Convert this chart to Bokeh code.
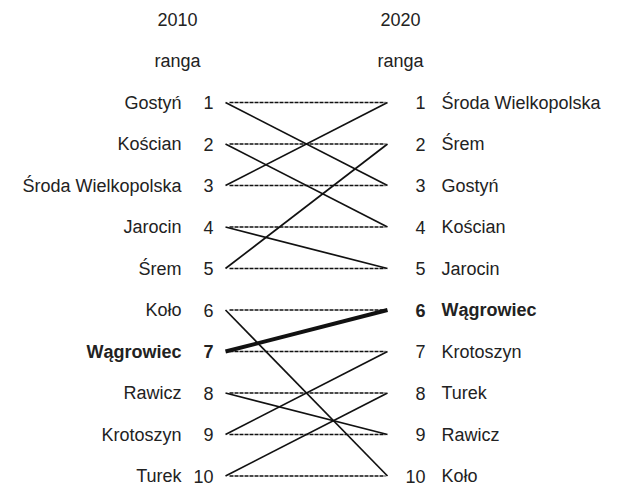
from bokeh.plotting import figure
from bokeh.models import Range1d, ColumnDataSource
from bokeh.core.properties import value
from bokeh.embed import file_html
from bokeh.resources import INLINE

# ---- data ----
years = ["2010", "2020"]
rank_header = "ranga"
ranks = [1, 2, 3, 4, 5, 6, 7, 8, 9, 10]
names_2010 = ["Gostyń", "Kościan", "Środa Wielkopolska", "Jarocin", "Śrem",
              "Koło", "Wągrowiec", "Rawicz", "Krotoszyn", "Turek"]
names_2020 = ["Środa Wielkopolska", "Śrem", "Gostyń", "Kościan", "Jarocin",
              "Wągrowiec", "Krotoszyn", "Turek", "Rawicz", "Koło"]
highlight = "Wągrowiec"

# ---- layout constants (pixel positions in page coords) ----
X_LABEL_L = 181
X_RANK_L = 213
X_LINE_L = 225
X_LINE_R = 387
X_RANK_R = 425
X_LABEL_R = 441
X_HEAD_L = 177
X_HEAD_R = 400
FONT = value("Liberation Sans")
FS = "18px"
TXT = "#222222"

W, H = 618, 487
p = figure(width=W, height=H, output_backend="svg", toolbar_location=None,
           x_range=Range1d(0, W), y_range=Range1d(10.277, -1.458),
           min_border=0)
p.axis.visible = False
p.grid.visible = False
p.outline_line_color = None
p.background_fill_color = "white"
p.border_fill_color = "white"

# dashed rank guides
p.segment(x0=[X_LINE_L + 4] * len(ranks), y0=ranks, x1=[X_LINE_R - 2] * len(ranks), y1=ranks,
          line_color="#111111", line_width=1.3, line_dash="4 1")

# connecting lines
r2020 = {n: i + 1 for i, n in enumerate(names_2020)}
x0, y0, x1, y1, lw = [], [], [], [], []
for i, n in enumerate(names_2010):
    x0.append(X_LINE_L); y0.append(i + 1)
    x1.append(X_LINE_R); y1.append(r2020[n])
    lw.append(4 if n == highlight else 1.7)
p.segment(x0="x0", y0="y0", x1="x1", y1="y1", line_width="lw", line_color="#111111",
          source=ColumnDataSource(dict(x0=x0, y0=y0, x1=x1, y1=y1, lw=lw)))

def txt(xs, ys, texts, align, styles):
    src = ColumnDataSource(dict(x=xs, y=ys, t=texts, st=styles))
    p.text(x="x", y="y", text="t", source=src, text_align=align, text_baseline="middle",
           text_font=FONT, text_font_size=FS, text_color=TXT, text_font_style="st")

sty_l = ["bold" if n == highlight else "normal" for n in names_2010]
sty_r = ["bold" if n == highlight else "normal" for n in names_2020]

# headers
txt([X_HEAD_L, X_HEAD_R, X_HEAD_L, X_HEAD_R], [-1, -1, 0, 0],
    [years[0], years[1], rank_header, rank_header], "center", ["normal"] * 4)

# left side
txt([X_LABEL_L] * 10, ranks, names_2010, "right", sty_l)
txt([X_RANK_L] * 10, ranks, [str(r) for r in ranks], "right", sty_l)
# right side
txt([X_RANK_R] * 10, ranks, [str(r) for r in ranks], "right", sty_r)
txt([X_LABEL_R] * 10, ranks, names_2020, "left", sty_r)

open("out.html", "w").write(file_html(p, INLINE))
